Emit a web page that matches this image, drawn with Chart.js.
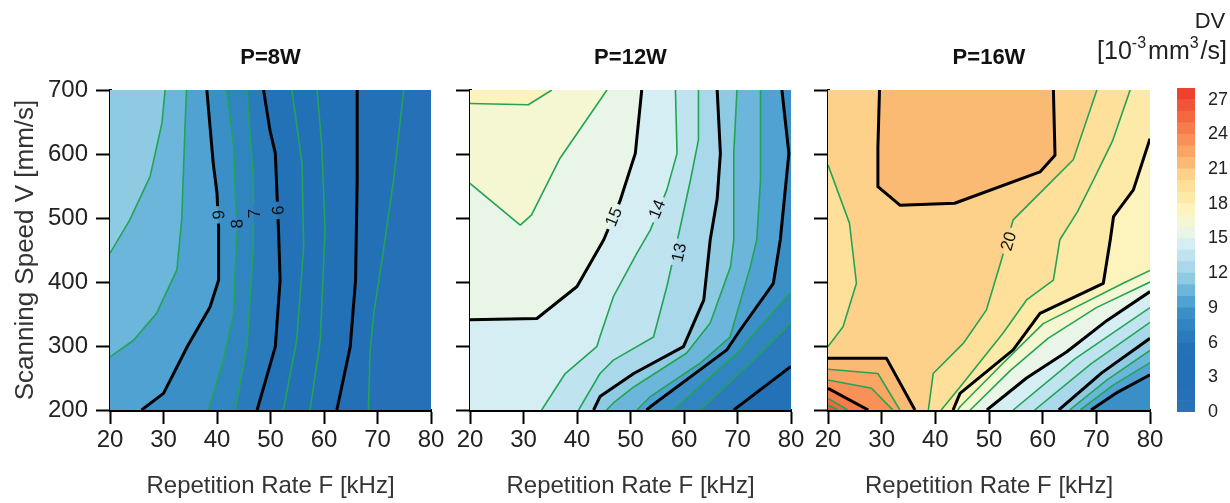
<!DOCTYPE html>
<html><head><meta charset="utf-8">
<script src="https://cdn.jsdelivr.net/npm/chart.js@4.4.0/dist/chart.umd.min.js"></script>
<style>
html,body{margin:0;padding:0;background:#fff;width:1230px;height:503px;overflow:hidden;}
.box{position:absolute;top:0;height:503px;}
</style></head><body>
<div class="box" style="left:0;width:450px"><canvas id="c1"></canvas></div>
<div class="box" style="left:445px;width:365px"><canvas id="c2"></canvas></div>
<div class="box" style="left:805px;width:365px"><canvas id="c3"></canvas></div>
<div class="box" style="left:1060px;width:170px"><canvas id="c4"></canvas></div>
<script>
// ---------------- DATA ----------------
const xTicks = [20, 30, 40, 50, 60, 70, 80];
const yTicks = [200, 300, 400, 500, 600, 700];
const panelTitles = ['P=8W', 'P=12W', 'P=16W'];
const colorbarTicks = [0, 3, 6, 9, 12, 15, 18, 21, 24, 27];
const colorbarLevels = [0,1,2,3,4,5,6,7,8,9,10,11,12,13,14,15,16,17,18,19,20,21,22,23,24,25,26,27];
// lowest band present in each panel
const baseBand8W = 1, baseBand12W = 5, baseBand16W = 8;

// contour lines: [level, [[F kHz, V mm/s], ...]]  (higher DV on the left of travel)
const lines8W = [
  [2,  [[68.3,200],[68.6,290],[69.3,351],[71.2,455],[73,559],[74.9,700]]],
  [3,  [[62.4,200],[64.9,299],[65.9,403],[66.2,559],[66.2,700]]],
  [4,  [[57.4,200],[59.3,309],[60.2,481],[59.6,611],[58.7,700]]],
  [5,  [[52.4,200],[54.9,309],[56.2,455],[55.9,585],[54,700]]],
  [6,  [[47.5,200],[50.9,299],[51.8,403],[51.5,481],[50.9,601],[49.9,637],[48.7,700]]],
  [7,  [[43.4,200],[45.6,299],[46.8,455],[46.8,559],[45.6,700]]],
  [8,  [[38.4,200],[41.2,278],[43.1,351],[43.7,481],[43.1,611],[41.8,700]]],
  [9,  [[25.9,200],[30,226],[34.5,300],[38.7,361],[40.3,403],[40.3,486],[40,539],[39.3,585],[38.1,700]]],
  [10, [[20,283],[24.4,309],[28.7,351],[32.5,419],[33.4,497],[34,637],[34.3,700]]],
  [11, [[20,445],[23.7,497],[27.5,565],[29.7,648],[30.3,700]]]
];
const lines12W = [
  [6,  [[69.3,200],[80,268]]],
  [7,  [[63,200],[71.7,268],[80,337]]],
  [8,  [[58,200],[69.9,289],[79.2,377],[80,382]]],
  [9,  [[53,200],[53.7,205],[68,294],[70.5,325],[76.7,398],[78,466],[79.6,601],[78.3,700]]],
  [10, [[51.2,200],[53.7,221],[63,273],[68.6,314],[72.4,424],[73.6,466],[74.3,559],[74.3,700]]],
  [11, [[45.5,200],[46.8,211],[50.6,236],[60.5,289],[64.9,336],[68.7,424],[69.3,466],[69.3,601],[69.9,700]]],
  [12, [[43.1,200],[44.3,221],[50.6,257],[59.9,299],[63.7,372],[64.9,466],[66.2,530],[66.8,601],[66.2,700]]],
  [13, [[40.3,200],[44.3,257],[46.8,278],[54.3,314],[56.8,393],[59.3,486],[61.2,559],[62.7,622],[62.7,700]]],
  [14, [[33.4,200],[37.8,257],[43.7,299],[44.3,315],[46.8,377],[51.2,445],[53.7,481],[56.8,544],[58.7,601],[58.4,700]]],
  [15, [[20,341],[32.5,343],[40,393],[45,466],[48.1,528],[50.9,601],[52.1,700]]],
  [16, [[20,554],[29.4,489],[31.5,505],[36.8,593],[45.6,700]]],
  [17, [[20,679],[30.9,677],[35.3,700]]]
];
const lines16W = [
  [9,  [[69,200],[74,228],[80,255]]],
  [10, [[67,200],[73,238],[80,274]]],
  [11, [[65,200],[72,247],[80,293]]],
  [12, [[63,200],[71,258],[80,312]]],
  [13, [[58.5,200],[69,272],[80,337]]],
  [14, [[54.5,200],[66,280],[80,360]]],
  [15, [[49.6,200],[57,250],[64.5,291],[72,340],[80,385]]],
  [16, [[46.5,200],[54,262],[61,312],[70,360],[80,400]]],
  [17, [[44.2,200],[44.6,205],[52.6,273],[60.1,335],[75,398],[80,418]]],
  [18, [[43.3,200],[44.6,226],[54.5,294],[59.5,351],[71.3,398],[72.6,466],[73.2,502],[76.9,544],[80,624]]],
  [19, [[41.1,200],[44.6,236],[52.6,320],[57,372],[62,403],[63.2,466],[66.5,510],[69.5,560],[73,620],[76.3,700]]],
  [20, [[20,583],[24,492],[25.3,398],[22.8,330],[20,299]]],
  [20, [[38.7,200],[39.6,257],[45.2,304],[49.5,356],[52.3,434],[54.5,497],[60.1,544],[65.7,591],[70.1,700]]],
  [21, [[29.6,700],[29.3,611],[29.3,549],[33.4,520],[43.6,523],[59.5,572],[62.3,598],[62,700]]],
  [21, [[36.2,200],[30.9,280.7],[20,280.7]]],
  [22, [[33.4,200],[29.3,257],[20,263.6]]],
  [23, [[32.1,200],[28.1,233.9],[20,246.9]]],
  [24, [[27.5,200],[20,233.9]]],
  [25, [[23.7,200],[20,218.2]]],
  [26, [[21.9,200],[20,207.8]]]
];
// contour labels: [level, F, V]
const labels8W = [[9,40.3,505],[8,43.7,491],[7,47.0,507],[6,51.4,512]];
const labels12W = [[15,46.8,502],[14,54.9,514],[13,59.0,446]];
const labels16W = [[20,53.6,464]];

// ---------------- STYLE ----------------
const bandColors = ['#2a72b7','#2570b6','#2370b6','#2270b6','#2270b6','#2372b7','#2a7bbc','#3084c0',
  '#3a8fc7','#4fa2d2','#6cb6dc','#8fcae3','#a9d8ea','#bfe3ef','#d5eef3','#e9f5e6','#f5f7d2','#fdf3bc',
  '#feeaa8','#fee09a','#fdd18a','#fbba73','#faa564','#f99058','#f77c4c','#f46840','#f15436','#ee4230'];
const FONT = '"Liberation Sans", Arial, Helvetica, sans-serif';
Chart.defaults.font.family = FONT;
Chart.defaults.color = '#222';
Chart.defaults.animation = false;

const XMIN = xTicks[0], XMAX = xTicks[xTicks.length-1], YMIN = yTicks[0], YMAX = yTicks[yTicks.length-1];
const CORNERS = [[XMIN,YMIN],[XMAX,YMIN],[XMAX,YMAX],[XMIN,YMAX]];
function tOf(p){
  const [x,y]=p, e=1e-6;
  if (Math.abs(y-YMIN)<e) return (x-XMIN)/(XMAX-XMIN);
  if (Math.abs(x-XMAX)<e) return 1+(y-YMIN)/(YMAX-YMIN);
  if (Math.abs(y-YMAX)<e) return 2+(XMAX-x)/(XMAX-XMIN);
  return 3+(YMAX-y)/(YMAX-YMIN);
}
function walk(t0,t1){
  let d=t1-t0; if(d<=0) d+=4;
  const out=[]; let k=Math.floor(t0)+1;
  while(k<t0+d){ out.push(CORNERS[k%4]); k++; }
  return out;
}
function polygons(pieces){
  const used=pieces.map(()=>false), polys=[];
  for(let i=0;i<pieces.length;i++){
    if(used[i]) continue;
    used[i]=true;
    const poly=[...pieces[i]]; const startT=tOf(pieces[i][0]); let cur=i;
    for(let g=0; g<50; g++){
      const endT=tOf(pieces[cur][pieces[cur].length-1]);
      const dist=t=>{let d=t-endT; if(d<=0) d+=4; return d;};
      let best=-1, bestD=dist(startT);
      pieces.forEach((p,j)=>{ if(!used[j]){ const d=dist(tOf(p[0])); if(d<bestD){bestD=d;best=j;} } });
      if(best<0){ poly.push(...walk(endT,startT)); break; }
      poly.push(...walk(endT,tOf(pieces[best][0])));
      poly.push(...pieces[best]); used[best]=true; cur=best;
    }
    polys.push(poly);
  }
  return polys;
}
const toXY = pts => pts.map(([x,y])=>({x,y}));

function buildDatasets(lines, base){
  const ds=[];
  ds.push({data:toXY(CORNERS), fill:'shape', backgroundColor:bandColors[base], borderColor:'rgba(0,0,0,0)', borderWidth:0, pointRadius:0, order:5000});
  const levels=[...new Set(lines.map(l=>l[0]))].sort((a,b)=>a-b);
  levels.forEach(L=>{
    const polys=polygons(lines.filter(l=>l[0]===L).map(l=>l[1]));
    const data=[];
    polys.forEach((p,i)=>{ if(i) data.push({x:null,y:null}); data.push(...toXY(p)); });
    ds.push({data, fill:'shape', backgroundColor:bandColors[L], borderColor:'rgba(0,0,0,0)', borderWidth:0, pointRadius:0, order:1000-L});
  });
  lines.forEach(([L,pts])=>{
    const major = L%3===0;
    ds.push({data:toXY(pts), fill:false, borderColor: major?'#000':'#22a454', borderWidth: major?3:1.6,
      pointRadius:0, order:0, contourLevel:L, borderJoinStyle:'round', borderCapStyle:'butt'});
  });
  return ds;
}

function labelGeom(chart, lines, labels){
  const xs=chart.scales.x, ys=chart.scales.y, ctx=chart.ctx;
  ctx.save(); ctx.font='17px '+FONT;
  const out = labels.map(([L,x,y])=>{
    const px=xs.getPixelForValue(x), py=ys.getPixelForValue(y);
    let best=Infinity, ang=0;
    lines.filter(l=>l[0]===L).forEach(([_,pts])=>{
      for(let i=0;i<pts.length-1;i++){
        const ax=xs.getPixelForValue(pts[i][0]), ay=ys.getPixelForValue(pts[i][1]);
        const bx=xs.getPixelForValue(pts[i+1][0]), by=ys.getPixelForValue(pts[i+1][1]);
        const dx=bx-ax, dy=by-ay, l2=dx*dx+dy*dy||1;
        let t=((px-ax)*dx+(py-ay)*dy)/l2; t=Math.max(0,Math.min(1,t));
        const d=Math.hypot(ax+t*dx-px, ay+t*dy-py);
        if(d<best){best=d; ang=Math.atan2(dy,dx);}
      }
    });
    while(ang<=-3*Math.PI/4) ang+=Math.PI;
    while(ang>Math.PI/4) ang-=Math.PI;
    const w=ctx.measureText(String(L)).width;
    return {L, px, py, ang, w};
  });
  ctx.restore();
  return out;
}

function panelPlugin(title, lines, labels){
  const clipped=new Set();
  return {
    id:'panelDeco',
    beforeDatasetDraw(chart,args){
      const ds=chart.data.datasets[args.index];
      if(ds.contourLevel===undefined) return;
      const g=labelGeom(chart,lines,labels).filter(r=>r.L===ds.contourLevel);
      if(!g.length) return;
      const ctx=chart.ctx; ctx.save(); ctx.beginPath(); ctx.rect(0,0,chart.width,chart.height);
      g.forEach(r=>{
        const hw=r.w/2+4, hh=9, c=Math.cos(r.ang), s=Math.sin(r.ang);
        const pts=[[-hw,-hh],[hw,-hh],[hw,hh],[-hw,hh]].map(([u,v])=>[r.px+u*c-v*s, r.py+u*s+v*c]);
        ctx.moveTo(pts[0][0],pts[0][1]); for(let k=1;k<4;k++) ctx.lineTo(pts[k][0],pts[k][1]); ctx.closePath();
      });
      ctx.clip('evenodd'); clipped.add(args.index);
    },
    afterDatasetDraw(chart,args){ if(clipped.has(args.index)){ chart.ctx.restore(); clipped.delete(args.index);} },
    afterDatasetsDraw(chart){
      const ctx=chart.ctx;
      labelGeom(chart,lines,labels).forEach(r=>{
        ctx.save(); ctx.translate(r.px,r.py); ctx.rotate(r.ang);
        ctx.font='17px '+FONT; ctx.fillStyle='#111'; ctx.textAlign='center'; ctx.textBaseline='middle';
        ctx.fillText(String(r.L),0,1); ctx.restore();
      });
    },
    afterDraw(chart){
      const ctx=chart.ctx, a=chart.chartArea;
      ctx.save(); ctx.font='bold 22px '+FONT; ctx.fillStyle='#111'; ctx.textAlign='center'; ctx.textBaseline='middle';
      ctx.fillText(title,(a.left+a.right)/2,58); ctx.restore();
    }
  };
}

function makePanel(id, title, lines, base, labels, yWidth, padRight, showY){
  const tickFont={size:24};
  new Chart(document.getElementById(id), {
    type:'line',
    data:{datasets:buildDatasets(lines, base)},
    options:{
      responsive:true, maintainAspectRatio:false, devicePixelRatio:1,
      layout:{padding:{left:0, top:90, right:padRight, bottom:0}},
      plugins:{legend:{display:false}, tooltip:{enabled:false}, title:{display:false}},
      elements:{line:{tension:0}},
      scales:{
        x:{type:'linear', min:XMIN, max:XMAX, z:1,
          afterBuildTicks:s=>{s.ticks=xTicks.map(v=>({value:v}));},
          ticks:{font:tickFont, color:'#222', padding:2, maxRotation:0, autoSkip:false},
          grid:{drawOnChartArea:false, drawTicks:true, tickLength:14, tickWidth:2, tickColor:'#000'},
          border:{display:true, color:'#000', width:3},
          title:{display:true, text:'Repetition Rate F [kHz]', font:{size:24}, color:'#333', padding:{top:0,bottom:2}},
          afterFit:s=>{s.height=93;}
        },
        y:{type:'linear', min:YMIN, max:YMAX, z:1,
          afterBuildTicks:s=>{s.ticks=yTicks.map(v=>({value:v}));},
          ticks:{display:showY, font:tickFont, color:'#222', padding:8, autoSkip:false},
          grid:{drawOnChartArea:false, drawTicks:true, tickLength:14, tickWidth:2, tickColor:'#000'},
          border:{display:true, color:'#000', width:3},
          title:{display:showY, text:'Scanning Speed V [mm/s]', font:{size:26}, color:'#333', padding:{top:10,bottom:0}},
          afterFit:s=>{s.width=yWidth;}
        }
      }
    },
    plugins:[panelPlugin(title, lines, labels)]
  });
}

makePanel('c1', panelTitles[0], lines8W, baseBand8W, labels8W, 110, 19, true);
makePanel('c2', panelTitles[1], lines12W, baseBand12W, labels12W, 25, 19, false);
makePanel('c3', panelTitles[2], lines16W, baseBand16W, labels16W, 23, 20, false);

// colorbar
new Chart(document.getElementById('c4'), {
  type:'bar',
  data:{labels:[''], datasets:colorbarLevels.map(L=>({data:[[L,L+1]], backgroundColor:bandColors[L], borderWidth:0, grouped:false, barPercentage:1, categoryPercentage:1}))},
  options:{
    responsive:true, maintainAspectRatio:false, devicePixelRatio:1,
    layout:{padding:{left:117, top:88, right:0, bottom:91}},
    plugins:{legend:{display:false}, tooltip:{enabled:false}},
    scales:{
      x:{display:false},
      y:{position:'right', min:0, max:28,
        afterBuildTicks:s=>{s.ticks=colorbarTicks.map(v=>({value:v}));},
        ticks:{font:{size:18}, color:'#222', padding:5},
        grid:{display:false}, border:{display:false},
        afterFit:s=>{s.width=35;}
      }
    }
  },
  plugins:[{id:'unit', afterDraw(chart){
    const ctx=chart.ctx; ctx.save(); ctx.fillStyle='#222'; ctx.textBaseline='alphabetic';
    ctx.font='22px '+FONT; ctx.textAlign='center';
    ctx.fillText('DV', 1210-1060, 28);
    const parts=[['[10',25,0,0],['-3',16,-11,2],['mm',25,0,0],['3',16,-11,2],['/s]',25,0,0]];
    let total=0; parts.forEach(([t,f,dy,gap])=>{ctx.font=f+'px '+FONT; total+=ctx.measureText(t).width+gap;});
    let x=1227-1060-total; ctx.textAlign='left';
    parts.forEach(([t,f,dy,gap])=>{ctx.font=f+'px '+FONT; ctx.fillText(t,x,59+dy); x+=ctx.measureText(t).width+gap;});
    ctx.restore();
  }}]
});
</script>
</body></html>
